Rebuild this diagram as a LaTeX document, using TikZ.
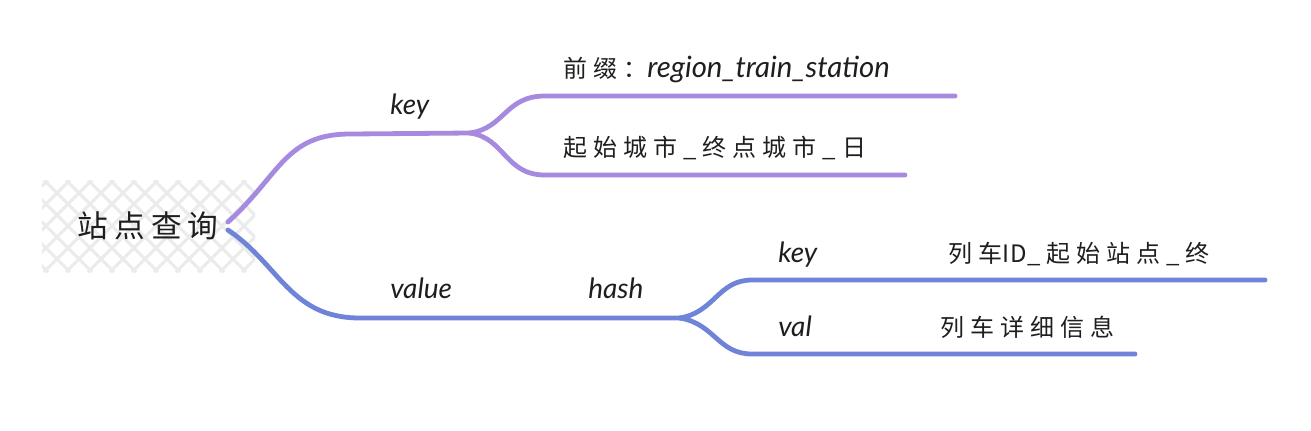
\documentclass[tikz,border=0pt]{standalone}
\usepackage{fontspec}
\setmainfont{Lato}
\newfontfamily\cjk{Noto Sans CJK SC}[LetterSpace=25]
\definecolor{keypurple}{HTML}{A68ADF}
\definecolor{valblue}{HTML}{6F83D9}
\definecolor{ink}{HTML}{1E1E1E}
\definecolor{hatchgrey}{HTML}{EBEBEB}
\begin{document}
\begin{tikzpicture}[x=0.75pt, y=-0.75pt,
  every node/.style={text=ink, inner sep=0pt},
  branch/.style={line width=3.6pt, line cap=round},
  leaf/.style={font=\fontsize{21}{24}\selectfont\itshape, anchor=base west},
  cjkleaf/.style={font=\fontsize{18}{21}\selectfont\cjk, anchor=base west}]
\useasboundingbox (0,0) rectangle (1311,430);
% Root with cross hatch
\begin{scope}
  \clip (42,180) rectangle (255,272);
  \foreach \i in {-6,...,14} {
    \draw[hatchgrey, line width=2.2pt] (\i*22,180) -- (\i*22+92,272);
    \draw[hatchgrey, line width=2.2pt] (\i*22,272) -- (\i*22+92,180);
  }
\end{scope}
\node[font=\fontsize{23}{26}\selectfont\cjk\addfontfeature{LetterSpace=20}] (root) at (148,226) {站点查询};
\coordinate (rootk) at (228,222);
\coordinate (rootv) at (228,230);
% key branch
\coordinate (keyfork) at (470,133);
\coordinate (prefixend) at (955,96);
\coordinate (cityend) at (905,175);
\draw[branch, keypurple] (rootk) .. controls (280,175) and (285,134) .. (350,134) -- (keyfork);
\draw[branch, keypurple] (keyfork) .. controls (505,128) and (505,96) .. (545,96) -- (prefixend);
\draw[branch, keypurple] (keyfork) .. controls (505,138) and (505,175) .. (545,175) -- (cityend);
\node[leaf] (keylbl) at (390,114) {key};
\node[cjkleaf] (prefix) at (563,77) {前缀：{\normalfont\fontsize{22}{24}\selectfont\itshape region\_train\_station}};
\node[cjkleaf] (city) at (563,156) {起始城市\_终点城市\_日};
% value branch
\coordinate (hashfork) at (680,318);
\coordinate (hkeyend) at (1265,280);
\coordinate (hvalend) at (1135,354);
\draw[branch, valblue] (rootv) .. controls (280,265) and (290,318) .. (360,318) -- (hashfork);
\draw[branch, valblue] (hashfork) .. controls (715,312) and (718,280) .. (752,280) -- (hkeyend);
\draw[branch, valblue] (hashfork) .. controls (715,324) and (718,354) .. (752,354) -- (hvalend);
\node[leaf] (valuelbl) at (390,298) {value};
\node[leaf] (hashlbl) at (588,298) {hash};
\node[leaf] (hkeylbl) at (778,262) {key};
\node[cjkleaf] (trainid) at (948,262) {列车{\addfontfeature{LetterSpace=5}ID}\_起始站点\_终};
\node[leaf] (hvallbl) at (778,336) {val};
\node[cjkleaf] (detail) at (940,336) {列车详细信息};
\end{tikzpicture}
\end{document}
